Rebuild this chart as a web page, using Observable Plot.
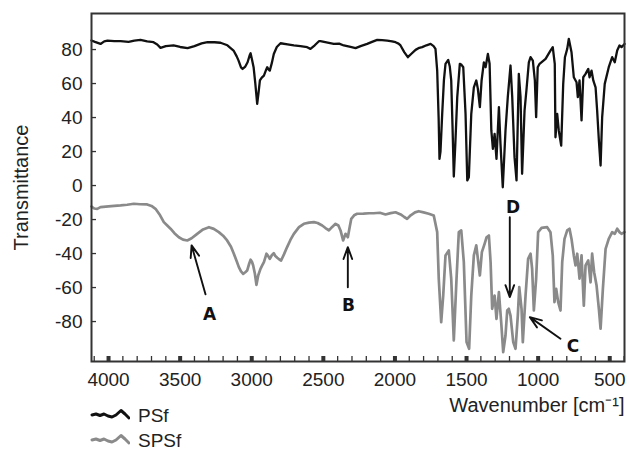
<!DOCTYPE html>
<html>
<head>
<meta charset="utf-8">
<script src="https://cdn.jsdelivr.net/npm/d3@7"></script>
<script src="https://cdn.jsdelivr.net/npm/@observablehq/plot@0.6"></script>
<style>
  html, body { margin: 0; padding: 0; background: #fff; }
  #wrap { position: relative; width: 629px; height: 450px; overflow: hidden; font-family: "Liberation Sans", Arial, sans-serif; }
  #legend { position: absolute; left: 90px; top: 401px; font-size: 19px; line-height: 19px; color: #222; }
  #legend .row { display: flex; align-items: center; height: 28px; }
  #legend .row + .row { height: 22px; }
  #legend svg { margin-right: 8px; }
</style>
</head>
<body>
<div id="wrap"><div id="chart"></div>
  <div id="legend"></div>
</div>
<script>
// ---- data ----
const psfWn = [4119,4095,4056,4030,4007,3960,3916,3860,3820,3777,3730,3686,3660,3637,3600,3546,3500,3448,3400,3350,3309,3260,3218,3170,3127,3105,3092,3075,3064,3045,3029,3015,3008,2998,2987,2975,2962,2952,2943,2930,2915,2900,2892,2884,2874,2860,2846,2825,2799,2750,2706,2660,2613,2590,2560,2531,2520,2470,2427,2390,2357,2310,2275,2240,2194,2160,2124,2090,2054,2020,1996,1975,1961,1935,1910,1885,1856,1830,1810,1780,1751,1730,1717,1705,1695,1689,1682,1670,1658,1647,1628,1617,1607,1598,1589,1578,1565,1547,1535,1523,1507,1495,1484,1467,1449,1432,1421,1407,1395,1379,1367,1351,1339,1327,1316,1304,1291,1274,1263,1247,1228,1212,1193,1181,1165,1151,1135,1123,1112,1095,1082,1065,1053,1037,1023,1014,1003,990,948,914,898,884,879,867,856,839,825,813,797,786,767,751,732,723,711,697,685,669,650,641,627,615,599,588,576,564,553,535,507,483,465,448,432,418,397];
const psfT = [85.3,84.5,83.3,84.8,85.3,85.0,84.9,84.5,85.2,85.7,84.8,84.3,83.0,81.0,82.0,82.4,81.5,80.8,82.0,83.6,84.3,84.3,84.0,82.5,79.4,76.0,73.5,69.5,68.6,70.0,72.5,76.5,77.8,74.0,69.6,60.0,48.0,55.0,61.8,63.5,64.7,68.0,69.6,68.5,67.6,72.0,77.4,81.5,83.7,83.0,82.4,82.0,81.4,80.4,82.5,84.9,84.9,84.0,83.3,83.5,82.4,81.5,80.8,82.0,83.3,84.5,85.7,85.5,85.3,84.8,84.3,83.5,82.4,78.5,75.5,77.5,79.8,81.0,81.4,82.5,83.3,82.0,80.4,67.6,40.0,15.7,20.0,42.2,62.0,71.6,73.9,70.0,61.8,35.0,5.3,25.0,52.0,71.6,71.0,69.6,42.2,3.0,4.9,42.2,57.8,61.8,56.9,46.1,61.8,72.5,69.6,77.4,71.6,32.4,21.6,30.4,15.7,46.1,24.5,-1.0,32.4,52.0,70.6,52.0,16.7,3.0,65.7,52.0,6.9,44.1,55.9,72.5,75.5,73.5,61.8,40.2,69.6,71.6,74.5,79.4,81.4,71.6,28.4,42.2,32.4,23.5,59.8,75.5,80.4,86.3,78.4,63.7,60.8,52.0,61.8,38.3,63.7,65.7,68.6,63.7,67.6,61.8,57.8,44.1,26.5,11.8,40.2,59.8,69.6,75.5,72.5,79.4,82.4,81.4,83.3];

const spsfWn = [4119,4100,4079,4056,4000,3960,3916,3870,3823,3780,3730,3700,3672,3640,3614,3590,3567,3540,3509,3480,3450,3420,3381,3340,3299,3265,3230,3200,3172,3145,3125,3105,3090,3075,3060,3045,3032,3018,3008,2998,2990,2978,2967,2955,2939,2927,2915,2897,2885,2874,2860,2846,2835,2822,2807,2795,2775,2753,2730,2706,2670,2636,2600,2566,2540,2508,2485,2461,2440,2415,2395,2380,2362,2345,2329,2315,2305,2285,2264,2220,2180,2148,2105,2066,2030,1996,1960,1935,1915,1890,1860,1834,1800,1764,1729,1705,1694,1677,1663,1647,1624,1607,1589,1570,1554,1537,1519,1500,1482,1467,1449,1432,1418,1407,1393,1374,1360,1344,1332,1321,1304,1291,1274,1258,1244,1228,1216,1205,1193,1174,1158,1142,1132,1116,1107,1088,1070,1053,1042,1030,1014,1000,976,937,914,898,886,874,860,844,832,816,797,781,767,751,739,727,711,697,681,669,650,634,623,609,592,576,564,548,529,507,483,465,448,432,418,397];
const spsfT = [-12.3,-13.5,-13.7,-12.7,-12.3,-12.0,-11.7,-11.3,-10.7,-11.0,-11.1,-12.0,-13.7,-17.5,-21.5,-23.5,-25.4,-28.0,-30.4,-31.8,-32.3,-31.0,-28.4,-25.8,-24.5,-25.5,-27.4,-29.5,-32.3,-36.0,-40.1,-44.5,-48.0,-50.5,-51.9,-51.0,-50.0,-46.0,-43.6,-45.0,-47.0,-51.9,-58.4,-52.9,-49.0,-47.0,-45.1,-40.1,-41.5,-43.1,-41.0,-39.8,-41.5,-42.5,-43.5,-44.1,-40.5,-36.2,-32.0,-28.4,-24.5,-22.5,-21.8,-21.5,-22.0,-23.5,-25.0,-26.4,-24.5,-22.5,-23.5,-26.4,-32.3,-28.4,-30.4,-24.0,-19.6,-17.5,-16.6,-16.5,-16.3,-16.3,-16.0,-17.0,-16.2,-15.7,-17.0,-18.5,-19.6,-17.5,-15.8,-15.1,-15.8,-16.6,-17.6,-27.4,-54.8,-80.4,-64.7,-41.1,-38.2,-54.8,-91.1,-54.8,-27.4,-26.4,-45.1,-92.1,-96.0,-64.7,-41.1,-35.2,-45.1,-52.9,-39.2,-34.3,-30.4,-29.4,-45.1,-72.5,-64.7,-78.4,-62.7,-80.4,-98.0,-88.2,-73.5,-72.5,-76.5,-92.1,-96.0,-76.5,-59.8,-72.5,-92.1,-64.7,-43.1,-40.1,-49.0,-73.5,-54.8,-27.4,-24.9,-24.5,-27.4,-41.1,-68.6,-60.8,-68.6,-73.5,-45.1,-31.4,-26.4,-25.4,-31.4,-41.1,-47.0,-40.1,-54.8,-41.1,-70.6,-47.0,-44.1,-56.9,-40.1,-51.0,-58.8,-72.5,-84.2,-60.8,-37.2,-31.4,-27.4,-28.4,-25.4,-27.4,-28.4,-27.4];

const seriesNames = ["PSf", "SPSf"];
const seriesColors = ["#111111", "#8a8a8a"];

const xMajorTicks = [4000, 3500, 3000, 2500, 2000, 1500, 1000, 500];
const xMinorTicks = d3.range(4100, 399, -100);
const yTicks = [80, 60, 40, 20, 0, -20, -40, -60, -80];
const xDomain = [4119, 397];
const yDomain = [-103.5, 101.2];

const annLabels = ["A", "B", "C", "D"];
const annX = [3295, 2324, 756, 1175];
const annY = [-75.8, -70.5, -94.5, -12.7];
const arrX1 = [3323, 2329, 844, 1198];
const arrY1 = [-64, -59.8, -90.1, -18.6];
const arrX2 = [3420, 2329, 1058, 1198];
const arrY2 = [-35.2, -36.2, -77.4, -65.6];

const xLabel = "Wavenumber [cm\u207B\u00B9]";
const yLabel = "Transmittance";

// ---- build tables ----
const psf = psfWn.map((w, i) => ({wn: w, t: psfT[i]}));
const spsf = spsfWn.map((w, i) => ({wn: w, t: spsfT[i]}));
const ann = annLabels.map((l, i) => ({label: l, x: annX[i], y: annY[i]}));
const arrows = annLabels.map((l, i) => ({x1: arrX1[i], y1: arrY1[i], x2: arrX2[i], y2: arrY2[i]}));

const axisColor = "#333";

const chart = Plot.plot({
  width: 629,
  height: 450,
  marginTop: 13,
  marginLeft: 91,
  marginRight: 5,
  marginBottom: 89,
  style: {fontFamily: '"Liberation Sans", Arial, sans-serif', color: "#222", background: "#fff"},
  x: {domain: xDomain},
  y: {domain: yDomain},
  marks: [
    Plot.line(spsf, {x: "wn", y: "t", stroke: seriesColors[1], strokeWidth: 2.7, strokeLinejoin: "round"}),
    Plot.line(psf, {x: "wn", y: "t", stroke: seriesColors[0], strokeWidth: 2.3, strokeLinejoin: "round"}),
    Plot.arrow(arrows, {x1: "x1", y1: "y1", x2: "x2", y2: "y2", stroke: "#111", strokeWidth: 1.9, headLength: 10, headAngle: 40}),
    Plot.text(ann, {x: "x", y: "y", text: "label", fontSize: 17, fontWeight: "bold", fontFamily: '"DejaVu Sans", sans-serif', fill: "#111"}),
    // x tick labels
    Plot.axisX({ticks: xMajorTicks, tickSize: 0, tickPadding: 11, fontSize: 19, tickFormat: d => String(d), label: null, color: "#222"}),
    // minor & major inward ticks
    Plot.axisX({ticks: xMinorTicks, tickSize: 5, dy: -5, strokeWidth: 1.3, tickFormat: () => "", label: null, stroke: axisColor}),
    Plot.axisX({ticks: xMajorTicks, tickSize: 5, dy: -5, strokeWidth: 4, tickFormat: () => "", label: null, stroke: axisColor}),
    // y tick labels and inward ticks
    Plot.axisY({ticks: yTicks, tickSize: 0, tickPadding: 9, fontSize: 19, tickFormat: d => String(d), label: null, color: "#222"}),
    Plot.axisY({ticks: yTicks, tickSize: 5, dx: 5, strokeWidth: 1.3, tickFormat: () => "", label: null, stroke: axisColor}),
    Plot.frame({stroke: axisColor, strokeWidth: 2}),
    Plot.text([yLabel], {frameAnchor: "left", text: d => d, textAnchor: "middle", rotate: -90, dx: -70, fontSize: 20, fill: "#222"}),
    Plot.text([xLabel], {frameAnchor: "bottom-right", text: d => d, textAnchor: "end", dy: 50, fontSize: 20, fill: "#222"})
  ]
});
document.getElementById("chart").appendChild(chart);

// ---- legend ----
const legend = document.getElementById("legend");
seriesNames.forEach((name, i) => {
  const row = document.createElement("div");
  row.className = "row";
  row.innerHTML = `<svg width="40" height="14" viewBox="0 0 40 14"><path d="M2,7 L6,6 L10,7.5 L14,6 L18,8 L22,9 L26,7 L31,2.5 L35,6 L39,10" fill="none" stroke="${seriesColors[i]}" stroke-width="3" stroke-linejoin="round" stroke-linecap="round"/></svg><span>${name}</span>`;
  legend.appendChild(row);
});
</script>
</body>
</html>
